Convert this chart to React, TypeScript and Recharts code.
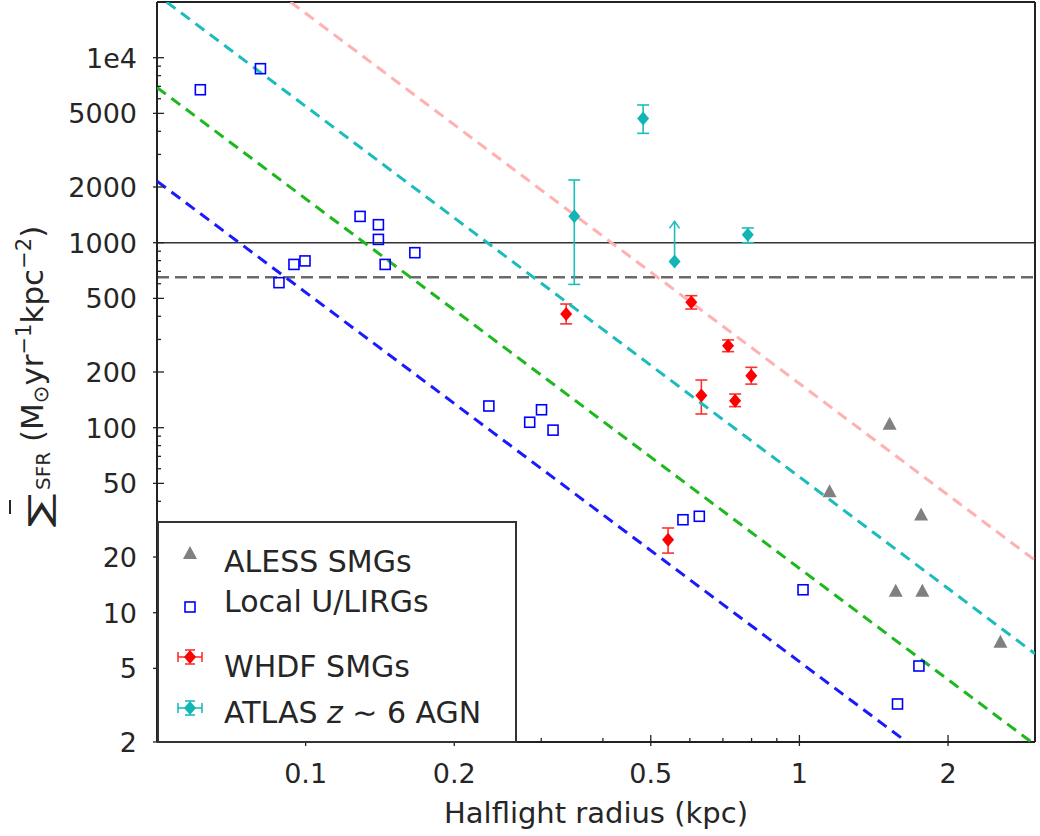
import React from "react";
import { ScatterChart, Scatter, XAxis, YAxis, ErrorBar, ReferenceLine } from "recharts";

// axis ticks
const xMajor = [0.1, 0.2, 0.5, 1, 2];
const xMinor = [0.06, 0.07, 0.08, 0.09, 0.3, 0.4, 0.6, 0.7, 0.8, 0.9];
const yMajor = [2, 5, 10, 20, 50, 100, 200, 500, 1000, 2000, 5000, 10000];
const yMinor = [3, 4, 6, 7, 8, 9, 30, 40, 60, 70, 80, 90, 300, 400, 600, 700, 800, 900, 3000, 4000, 6000, 7000, 8000, 9000];

// Local U/LIRGs
const localR = [0.0612, 0.081, 0.0883, 0.0947, 0.0997, 0.1289, 0.1404, 0.1404, 0.1449, 0.1664, 0.235, 0.2843, 0.3004, 0.317, 0.581, 0.627, 1.017, 1.58, 1.746];
const localSigma = [6710, 8720, 608, 763, 797, 1387, 1251, 1042, 763, 883, 131, 107, 125, 97, 31.8, 33.2, 13.3, 3.21, 5.15];

// ALESS SMGs
const alessR = [1.151, 1.523, 1.764, 1.567, 1.774, 2.553];
const alessSigma = [45.3, 105, 33.9, 13.15, 13.15, 6.97];

// WHDF SMGs
const whdfR = [0.337, 0.604, 0.717, 0.799, 0.633, 0.741, 0.542];
const whdfSigma = [412, 476, 277.5, 191, 149.5, 140, 24.8];
const whdfLow = [364, 438, 257.6, 172, 118.6, 130, 21.0];
const whdfHigh = [466, 517, 298, 212, 181, 152, 28.7];

// ATLAS z~6 AGN
const atlasR = [0.4825, 0.35, 0.786];
const atlasSigma = [4697, 1388, 1105];
const atlasLow = [3900, 595, 1000];
const atlasHigh = [5550, 2183, 1201];
// lower limit: point + arrow tip
const atlasLimR = [0.5587, 0.5587];
const atlasLimSigma = [792, 1304];

// constant-SFR lines (end points)
const blueLine = [[0.05, 2150], [1.65, 2]];
const greenLine = [[0.05, 6900], [2.95, 2]];
const cyanLine = [[0.0523, 20000], [3, 6.0]];
const pinkLine = [[0.0932, 20000], [3, 19.2]];

const hLineSolid = 1000;
const hLineDashed = 650;

const FONT = "DejaVu Sans";
const TXT = "#262626";
const CYAN = "#12b5b5";
const CYAN_ERR = "#1cbdbd";

const pts = (rs: number[], ss: number[]) => rs.map((r, i) => ({ x: r, y: ss[i] }));
const seg = (l: number[][]) => l.map(([x, y]) => ({ x, y }));

const localData = pts(localR, localSigma);
const alessData = pts(alessR, alessSigma);
const whdfData = whdfR.map((r, i) => ({ x: r, y: whdfSigma[i], err: [whdfSigma[i] - whdfLow[i], whdfHigh[i] - whdfSigma[i]] }));
const atlasData = atlasR.map((r, i) => ({ x: r, y: atlasSigma[i], err: [atlasSigma[i] - atlasLow[i], atlasHigh[i] - atlasSigma[i]] }));
const limData = atlasLimR.map((r, i) => ({ x: r, y: atlasLimSigma[i], tip: i === 1 }));

const fmtY = (v: number) => (v === 10000 ? "1e4" : String(v));

function XTick(props: any) {
  const { x, y, payload } = props;
  const major = xMajor.includes(payload.value);
  return (
    <g>
      <line x1={x} x2={x} y1={major ? y - 7 : y - 4} y2={major ? y + 4 : y} stroke="#222" strokeWidth={1.3} />
      {major && (
        <text x={x} y={y + 41} textAnchor="middle" fontSize={27} fill={TXT} fontFamily={FONT}>
          {String(payload.value)}
        </text>
      )}
    </g>
  );
}

function YTick(props: any) {
  const { x, y, payload } = props;
  const major = yMajor.includes(payload.value);
  return (
    <g>
      <line x1={major ? x - 4 : x} x2={major ? x + 7 : x + 4} y1={y} y2={y} stroke="#222" strokeWidth={1.3} />
      {major && (
        <text x={x - 20} y={y + 10} textAnchor="end" fontSize={27} fill={TXT} fontFamily={FONT}>
          {fmtY(payload.value)}
        </text>
      )}
    </g>
  );
}

function YLabel() {
  return (
    <g fill={TXT} fontFamily={FONT}>
      <text x={50} y={527} transform="rotate(-90 50 527)" fontSize={30} textLength={34} lengthAdjust="spacingAndGlyphs">
        ∑
      </text>
      <line x1={10} x2={10} y1={500} y2={514} stroke={TXT} strokeWidth={2} />
      <text x={43} y={490} transform="rotate(-90 43 490)" fontSize={31}>
        <tspan fontSize={20} dy={7}>SFR</tspan>
        <tspan dy={-7}> (M</tspan>
        <tspan fontSize={21} dy={5}>⊙</tspan>
        <tspan dy={-5}>yr</tspan>
        <tspan fontSize={21} dy={-12}>−1</tspan>
        <tspan dy={12}>kpc</tspan>
        <tspan fontSize={21} dy={-12}>−2</tspan>
        <tspan dy={12}>)</tspan>
      </text>
    </g>
  );
}

const square = (p: any) => (
  <rect x={p.cx - 5} y={p.cy - 5} width={10} height={10} fill="none" stroke="#0000ff" strokeWidth={1.6} />
);
const triangle = (p: any) => (
  <polygon points={`${p.cx},${p.cy - 7} ${p.cx + 7},${p.cy + 6} ${p.cx - 7},${p.cy + 6}`} fill="#808080" />
);
const diamond = (color: string) => (p: any) => (
  <polygon points={`${p.cx},${p.cy - 7} ${p.cx + 6},${p.cy} ${p.cx},${p.cy + 7} ${p.cx - 6},${p.cy}`} fill={color} />
);
const limShape = (p: any) =>
  p.payload && p.payload.tip ? (
    <polyline points={`${p.cx - 5},${p.cy + 7} ${p.cx},${p.cy} ${p.cx + 5},${p.cy + 7}`} fill="none" stroke={CYAN_ERR} strokeWidth={1.6} />
  ) : (
    diamond(CYAN)(p)
  );
const noShape = () => <g />;

function LegendBox() {
  const row = (y: number) => y - 521;
  return (
    <svg width={360} height={222} style={{ position: "absolute", left: 157, top: 521 }}>
      <rect x={1} y={1} width={358} height={220} fill="#fff" stroke="#333" strokeWidth={2} />
      <g fontFamily={FONT} fontSize={30} fill={TXT}>
        <polygon points={`33,${row(546)} 40,${row(559)} 26,${row(559)}`} fill="#808080" />
        <text x={67} y={row(572)}>ALESS SMGs</text>
        <rect x={28} y={row(602)} width={10} height={10} fill="none" stroke="#0000ff" strokeWidth={1.6} />
        <text x={67} y={row(612)}>Local U/LIRGs</text>
        <g stroke="#ff3030" strokeWidth={1.6}>
          <line x1={21} x2={45} y1={row(657)} y2={row(657)} />
          <line x1={21} x2={21} y1={row(652)} y2={row(662)} />
          <line x1={45} x2={45} y1={row(652)} y2={row(662)} />
          <line x1={28} x2={38} y1={row(650)} y2={row(650)} />
          <line x1={28} x2={38} y1={row(664)} y2={row(664)} />
        </g>
        <polygon points={`33,${row(650)} 39,${row(657)} 33,${row(664)} 27,${row(657)}`} fill="#ff0000" />
        <text x={67} y={row(677)}>WHDF SMGs</text>
        <g stroke={CYAN_ERR} strokeWidth={1.6}>
          <line x1={21} x2={45} y1={row(708)} y2={row(708)} />
          <line x1={21} x2={21} y1={row(703)} y2={row(713)} />
          <line x1={45} x2={45} y1={row(703)} y2={row(713)} />
          <line x1={28} x2={38} y1={row(701)} y2={row(701)} />
          <line x1={28} x2={38} y1={row(715)} y2={row(715)} />
        </g>
        <polygon points={`33,${row(701)} 39,${row(708)} 33,${row(715)} 27,${row(708)}`} fill={CYAN} />
        <text x={67} y={row(723)}>
          ATLAS <tspan fontStyle="italic">z</tspan> ∼ 6 AGN
        </text>
      </g>
    </svg>
  );
}

export default function App() {
  const dashed = { strokeWidth: 3, strokeDasharray: "11 7" };
  return (
    <div style={{ position: "absolute", left: 0, top: 0, width: 1040, height: 836, background: "#fff" }}>
      <ScatterChart width={1040} height={836} margin={{ top: 2, right: 5, bottom: 0, left: 0 }}>
        <XAxis
          type="number"
          dataKey="x"
          scale="log"
          domain={[0.05, 3]}
          allowDataOverflow
          ticks={[...xMajor, ...xMinor].sort((a, b) => a - b)}
          interval={0}
          tick={<XTick />}
          tickLine={false}
          tickSize={0}
          tickMargin={0}
          height={94}
          axisLine={{ stroke: "#222", strokeWidth: 2 }}
          label={{ value: "Halflight radius (kpc)", position: "insideBottom", offset: 13, fontSize: 29, fill: TXT, fontFamily: FONT }}
        />
        <YAxis
          type="number"
          dataKey="y"
          scale="log"
          domain={[2, 20000]}
          allowDataOverflow
          ticks={[...yMajor, ...yMinor].sort((a, b) => a - b)}
          interval={0}
          tick={<YTick />}
          tickLine={false}
          tickSize={0}
          tickMargin={0}
          width={157}
          axisLine={{ stroke: "#222", strokeWidth: 2 }}
          label={<YLabel />}
        />
        <Scatter data={seg(pinkLine)} line={{ stroke: "#ffb0b0", ...dashed }} shape={noShape} isAnimationActive={false} />
        <Scatter data={seg(cyanLine)} line={{ stroke: "#1cbcbc", ...dashed }} shape={noShape} isAnimationActive={false} />
        <Scatter data={seg(greenLine)} line={{ stroke: "#1db81d", ...dashed }} shape={noShape} isAnimationActive={false} />
        <Scatter data={seg(blueLine)} line={{ stroke: "#1a1aff", ...dashed }} shape={noShape} isAnimationActive={false} />
        <ReferenceLine y={hLineSolid} stroke="#333" strokeWidth={1.6} />
        <ReferenceLine y={hLineDashed} stroke="#6a6a6a" strokeWidth={2.5} strokeDasharray="12 6" />
        <ReferenceLine y={20000} stroke="#222" strokeWidth={2} />
        <ReferenceLine x={3} stroke="#222" strokeWidth={2} />
        <Scatter data={localData} shape={square} isAnimationActive={false} />
        <Scatter data={alessData} shape={triangle} isAnimationActive={false} />
        <Scatter data={whdfData} shape={diamond("#ff0000")} isAnimationActive={false}>
          <ErrorBar dataKey="err" direction="y" width={6} stroke="#ff3030" strokeWidth={1.6} />
        </Scatter>
        <Scatter data={atlasData} shape={diamond(CYAN)} isAnimationActive={false}>
          <ErrorBar dataKey="err" direction="y" width={6} stroke={CYAN_ERR} strokeWidth={1.6} />
        </Scatter>
        <Scatter data={limData} line={{ stroke: CYAN_ERR, strokeWidth: 1.6 }} shape={limShape} isAnimationActive={false} />
      </ScatterChart>
      <LegendBox />
    </div>
  );
}
